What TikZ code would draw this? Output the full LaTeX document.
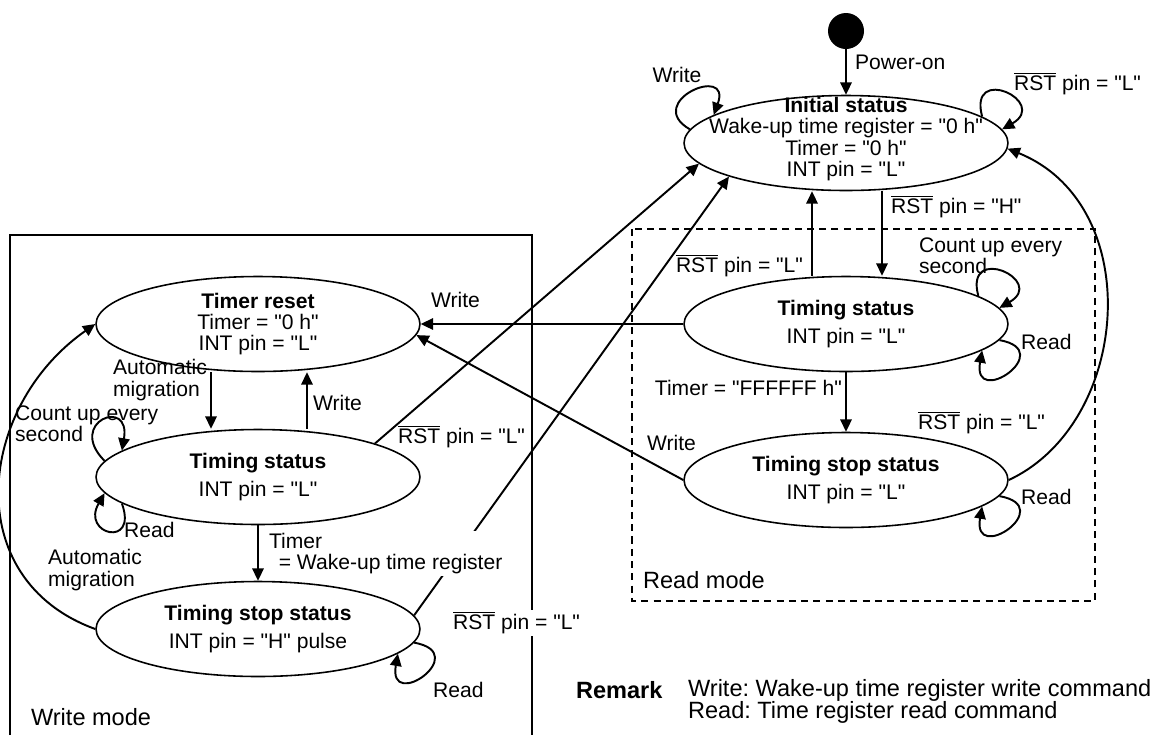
\documentclass[tikz,border=0pt]{standalone}
\usepackage{fontspec}
\setmainfont{Liberation Sans}[Ligatures=TeXOff]
\usepackage{tikz}
\usetikzlibrary{shapes.geometric, arrows.meta, calc}

\newcommand{\rstbar}{$\overline{\mbox{RST}}$}
\frenchspacing

\begin{document}
\begin{tikzpicture}[x=0.02cm, y=0.02cm,
		font=\fontsize{12}{12}\selectfont,
		state/.style={draw, ellipse, line width=0.9pt, minimum width=6.48cm, minimum height=1.9cm, inner sep=0pt},
		stext/.style={align=center, inner sep=0pt},
		lbl/.style={anchor=west, inner sep=1pt, align=left},
		big/.style={lbl, font=\fontsize{13.4}{12.6}\selectfont},
		arr/.style={-{Triangle[length=7pt, width=6.5pt]}, line width=1.1pt}]

		\useasboundingbox (0,0) rectangle (1169,-735);

		% mode frames
		\draw[line width=0.7pt] (10,-735) |- (532,-235) -- (532,-735);
		\draw[dash pattern=on 4pt off 3pt, line width=0.6pt] (632,-229) rectangle (1095,-601);
		\node[big] (wmode) at (29,-717) {Write mode};
		\node[big] (rmode) at (641,-580) {Read mode};

		% states
		\node[circle, fill, minimum size=0.72cm, inner sep=0pt] (start) at (846,-31) {};
		\node[state] (init) at (846,-143) {};
		\node[stext] (init-t) at (846,-139) {\textbf{Initial status}\\ Wake-up time register = "0 h"\\ Timer = "0 h"\\ INT pin = "L"};

		\node[state] (rtime) at (846,-324) {};
		\node[stext] (rtime-t) at (rtime) {\textbf{Timing status}\\[3.5pt] INT pin = "L"};
		\node[state] (rstop) at (846,-480) {};
		\node[stext] (rstop-t) at (rstop) {\textbf{Timing stop status}\\[3.5pt] INT pin = "L"};

		\node[state] (treset) at (258,-324) {};
		\node[stext] (treset-t) at (treset) {\textbf{Timer reset}\\ Timer = "0 h"\\ INT pin = "L"};
		\node[state] (wtime) at (258,-477) {};
		\node[stext] (wtime-t) at (wtime) {\textbf{Timing status}\\[3.5pt] INT pin = "L"};
		\node[state] (wstop) at (258,-629) {};
		\node[stext] (wstop-t) at (wstop) {\textbf{Timing stop status}\\[3.5pt] INT pin = "H" pulse};

		% initial status
		\draw[arr] (start) -- (init);
		\node[lbl] (pon) at (853,-62) {Power-on};
		\draw[arr] (init.175) .. controls +(150:55) and +(70:55) .. (init.168);
		\node[] (init-w) at (677,-75) {Write};
		\draw[arr] (init.11) .. controls +(105:55) and +(30:55) .. (init.5);
		\node[lbl] (init-r) at (1012,-84) {\rstbar{} pin = "L"};

		% read mode
		\draw[arr] ([xshift=0.72cm]init.south) -- ([xshift=0.72cm]rtime.north);
		\node[lbl] (rsth) at (889,-207) {\rstbar{} pin = "H"};
		\draw[arr] ([xshift=-0.68cm]rtime.north) -- ([xshift=-0.68cm]init.south);
		\node[lbl, anchor=east] (rstl1) at (805,-266) {\rstbar{} pin = "L"};
		\draw[arr] (rtime.12) .. controls +(105:55) and +(30:55) .. (rtime.6);
		\node[lbl] (rcount) at (917,-256) {Count up every\\second};
		\draw[arr] (rtime.-6) .. controls +(-10:60) and +(-100:60) .. (rtime.-11);
		\node[lbl] (rread1) at (1019,-342) {Read};
		\draw[arr] (rtime) -- (rstop);
		\node[lbl, anchor=east] (ffff) at (844,-388) {Timer = "FFFFFF h"};
		\draw[arr] (rstop.-6) .. controls +(-10:60) and +(-100:60) .. (rstop.-11);
		\node[lbl] (rread2) at (1019,-497) {Read};
		\draw[arr] (rstop.east) .. controls +(25:135) and +(-22:150) .. (init.-2);
		\node[lbl] (rstl2) at (916,-423) {\rstbar{} pin = "L"};

		% read mode to write mode
		\draw[arr] (rtime.west) -- (treset.east);
		\node[lbl] (w1) at (429,-300) {Write};
		\draw[arr] (rstop.west) -- (treset.-4);
		\node[lbl] (w2) at (645,-443) {Write};

		% write mode
		\draw[arr] ([xshift=-0.94cm]treset.south) -- ([xshift=-0.94cm]wtime.north);
		\node[lbl] (auto1) at (111,-380) {Automatic\\migration};
		\draw[arr] ([xshift=0.98cm]wtime.north) -- ([xshift=0.98cm]treset.south);
		\node[lbl] (w3) at (311,-403) {Write};
		\draw[arr] (wtime.174) .. controls +(135:55) and +(80:55) .. (wtime.169);
		\node[lbl] (wcount) at (13,-424) {Count up every\\second};
		\draw[arr] (wtime.-169) .. controls +(-70:48) and +(240:48) .. (wtime.-174);
		\node[lbl] (wread1) at (122,-530) {Read};
		\draw[arr] (wtime.16) -- (init.188);
		\node[lbl] (rstl3) at (396,-437) {\rstbar{} pin = "L"};
		\draw[arr] (wstop.5) -- (init.196);
		\draw[arr] (wtime) -- (wstop);
		\node[lbl, anchor=north west, fill=white] (wake) at (267,-531) {Timer\\\hspace{5.5pt}= Wake-up time register};
		\draw[arr] (wstop.-5) .. controls +(-10:60) and +(-100:60) .. (wstop.-10);
		\node[lbl] (wread2) at (431,-690) {Read};
		\node[lbl, fill=white] (rstl4) at (451,-623) {\rstbar{} pin = "L"};
		\draw[arr] (wstop.west) .. controls +(160:145) and +(215:145) .. (treset.west);
		\node[lbl] (auto2) at (46,-570) {Automatic\\migration};

		% remark
		\node[big] (remark) at (574,-690) {\textbf{Remark}};
		\node[big] (remark-t) at (686,-701) {Write: Wake-up time register write command\\Read: Time register read command};

\end{tikzpicture}
\end{document}
